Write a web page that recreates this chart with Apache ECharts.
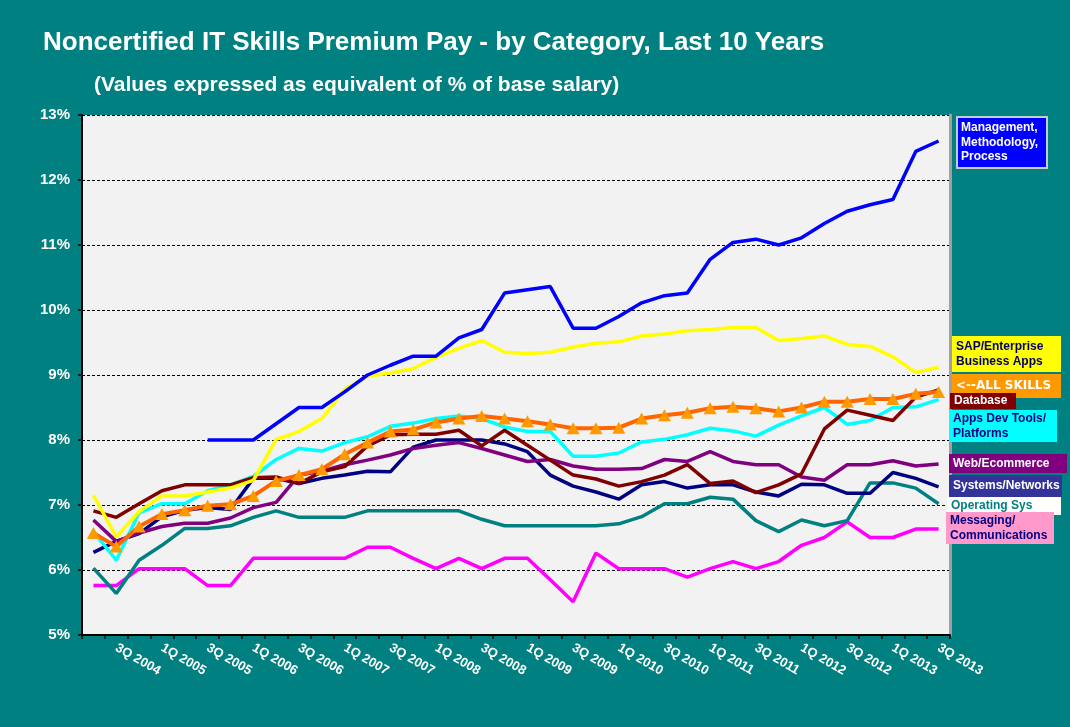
<!DOCTYPE html>
<html>
<head>
<meta charset="utf-8">
<script src="https://cdn.jsdelivr.net/npm/echarts@6/dist/echarts.min.js"></script>
<style>
  body { margin: 0; background: #fff; }
  #chart { width: 1070px; height: 727px; background: #008080; }
</style>
</head>
<body>
<div id="chart"></div>
<script>
// quarters 2Q 2004 .. 3Q 2013
var quarters = [];
for (var y = 2004; y <= 2013; y++) {
    for (var q = 1; q <= 4; q++) {
        if ((y === 2004 && q < 2) || (y === 2013 && q > 3)) continue;
        quarters.push(q + 'Q ' + y);
    }
}

var mgmt = [null, null, null, null, null, 8.0, 8.0, 8.0, 8.25, 8.5, 8.5, 8.74, 9.0, 9.15, 9.29, 9.29, 9.57, 9.7, 10.26, 10.31, 10.36, 9.72, 9.72, 9.9, 10.11, 10.22, 10.26, 10.78, 11.04, 11.09, 11.0, 11.11, 11.33, 11.52, 11.62, 11.7, 12.44, 12.6];
var sap = [7.15, 6.51, 6.9, 7.14, 7.14, 7.2, 7.26, 7.38, 8.01, 8.13, 8.33, 8.78, 8.98, 9.03, 9.1, 9.27, 9.41, 9.53, 9.35, 9.33, 9.35, 9.43, 9.49, 9.51, 9.6, 9.63, 9.68, 9.7, 9.73, 9.73, 9.53, 9.56, 9.6, 9.47, 9.44, 9.28, 9.04, 9.12];
var allSkills = [6.57, 6.36, 6.67, 6.86, 6.92, 6.99, 7.01, 7.14, 7.37, 7.46, 7.55, 7.78, 7.96, 8.13, 8.16, 8.27, 8.33, 8.37, 8.33, 8.29, 8.24, 8.18, 8.18, 8.19, 8.33, 8.38, 8.42, 8.49, 8.51, 8.49, 8.44, 8.5, 8.59, 8.59, 8.63, 8.63, 8.71, 8.74];
var database = [6.91, 6.81, 7.02, 7.22, 7.31, 7.31, 7.31, 7.42, 7.43, 7.33, 7.51, 7.59, 7.91, 8.08, 8.09, 8.09, 8.15, 7.91, 8.15, 7.92, 7.69, 7.46, 7.4, 7.29, 7.36, 7.46, 7.62, 7.33, 7.37, 7.19, 7.31, 7.48, 8.17, 8.46, 8.38, 8.3, 8.66, 8.77];
var appsDev = [6.59, 6.15, 6.88, 7.02, 7.02, 7.22, 7.31, 7.44, 7.7, 7.87, 7.83, 7.96, 8.05, 8.21, 8.26, 8.33, 8.37, 8.33, 8.2, 8.13, 8.13, 7.75, 7.75, 7.8, 7.97, 8.01, 8.08, 8.18, 8.14, 8.06, 8.23, 8.37, 8.5, 8.24, 8.3, 8.5, 8.51, 8.62];
var webEcom = [6.77, 6.44, 6.57, 6.67, 6.72, 6.72, 6.8, 6.96, 7.04, 7.46, 7.52, 7.62, 7.69, 7.77, 7.87, 7.92, 7.96, 7.87, 7.77, 7.67, 7.7, 7.6, 7.55, 7.55, 7.56, 7.7, 7.67, 7.82, 7.67, 7.62, 7.62, 7.43, 7.38, 7.62, 7.62, 7.68, 7.6, 7.63];
var systems = [6.27, 6.44, 6.56, 6.82, 6.92, 6.96, 6.93, 7.41, 7.41, 7.33, 7.41, 7.46, 7.52, 7.51, 7.89, 8.0, 8.0, 8.0, 7.94, 7.82, 7.46, 7.29, 7.2, 7.09, 7.31, 7.36, 7.26, 7.31, 7.31, 7.2, 7.14, 7.32, 7.31, 7.18, 7.18, 7.5, 7.41, 7.28];
var opSys = [6.03, 5.64, 6.15, 6.38, 6.64, 6.64, 6.68, 6.81, 6.91, 6.81, 6.81, 6.81, 6.91, 6.91, 6.91, 6.91, 6.91, 6.78, 6.68, 6.68, 6.68, 6.68, 6.68, 6.71, 6.82, 7.02, 7.02, 7.12, 7.09, 6.76, 6.59, 6.77, 6.68, 6.76, 7.34, 7.34, 7.26, 7.02];
var messaging = [5.76, 5.76, 6.02, 6.02, 6.02, 5.76, 5.76, 6.18, 6.18, 6.18, 6.18, 6.18, 6.35, 6.35, 6.18, 6.02, 6.18, 6.02, 6.18, 6.18, 5.85, 5.51, 6.26, 6.02, 6.02, 6.02, 5.89, 6.02, 6.13, 6.02, 6.13, 6.38, 6.5, 6.74, 6.5, 6.5, 6.63, 6.63];

// label boxes on the right: x, y, w, h, background, text colour, lines
var boxes = [
    [957, 117, 90, 51, '#0000ff', '#ffffff', 'Management,\nMethodology,\nProcess', '#c0d0d0'],
    [952, 336, 109, 36, '#ffff00', '#000066', 'SAP/Enterprise\nBusiness Apps', null],
    [952, 374, 109, 24, '#ff9900', '#ffffff', '<--ALL SKILLS', null],
    [950, 393, 66, 16, '#800000', '#ffffff', 'Database', null],
    [949, 410, 108, 32, '#00ffff', '#000080', 'Apps Dev Tools/\nPlatforms', null],
    [949, 454, 118, 19, '#800080', '#ffffff', 'Web/Ecommerce', null],
    [949, 475, 113, 22, '#333399', '#ffffff', 'Systems/Networks', null],
    [947, 497, 114, 18, '#ffffff', '#008080', 'Operating Sys', null],
    [946, 512, 108, 32, '#ff99cc', '#000080', 'Messaging/\nCommunications', null]
];

var graphics = [];
boxes.forEach(function (b, i) {
    var heavy = b[6] === '<--ALL SKILLS';
    graphics.push({
        type: 'rect', z: 10 + i * 2,
        shape: {x: b[0], y: b[1], width: b[2], height: b[3]},
        style: {fill: b[4], stroke: b[7] || null, lineWidth: b[7] ? 2 : 0}
    });
    graphics.push({
        type: 'text', z: 11 + i * 2,
        x: b[0] + 4, y: b[1] + b[3] / 2,
        style: {
            text: b[6], fill: b[5],
            font: heavy ? 'bold 12px "DejaVu Sans"' : 'bold 12px "Liberation Sans", Arial',
            lineHeight: 14.5, verticalAlign: 'middle', align: 'left'
        }
    });
});

var myChart = echarts.init(document.getElementById('chart'));

function line(name, data, color, width) {
    return {
        name: name, type: 'line', data: data, symbol: 'none',
        lineStyle: {color: color, width: width || 3.5},
        itemStyle: {color: color},
        connectNulls: false
    };
}

var option = {
    animation: false,
    title: [{
        text: 'Noncertified IT Skills Premium Pay - by Category, Last 10 Years',
        left: 38, top: 25,
        textStyle: {color: '#fff', fontSize: 26, fontWeight: 'bold', fontFamily: 'Liberation Sans'}
    }, {
        text: '(Values expressed as equivalent of % of base salary)',
        left: 89, top: 70,
        textStyle: {color: '#fff', fontSize: 21, fontWeight: 'bold', fontFamily: 'Liberation Sans'}
    }],
    grid: {
        left: 82, right: 120, top: 115, bottom: 92,
        show: true, backgroundColor: '#f2f2f2', borderWidth: 0
    },
    xAxis: {
        type: 'category', data: quarters, boundaryGap: true,
        axisLine: {lineStyle: {color: '#000', width: 2}},
        axisTick: {show: true, interval: 0, length: 4, lineStyle: {color: '#000', width: 1.5}},
        axisLabel: {
            interval: function (i) { return i % 2 === 1; },
            rotate: -30, color: '#fff', fontSize: 13, fontWeight: 'bold',
            fontFamily: 'Liberation Sans', margin: 12
        }
    },
    yAxis: [{
        type: 'value', min: 5, max: 13, interval: 1,
        axisLine: {show: true, lineStyle: {color: '#000', width: 2}},
        axisTick: {show: true, length: 4, lineStyle: {color: '#000', width: 1.5}},
        axisLabel: {formatter: '{value}%', color: '#fff', fontSize: 15, fontWeight: 'bold',
            fontFamily: 'Liberation Sans', margin: 12},
        splitLine: {lineStyle: {color: '#000', type: [3, 2], width: 1}}
    }, {
        type: 'value', min: 5, max: 13, interval: 1, position: 'right',
        axisLine: {show: true, lineStyle: {color: '#a0a0a0', width: 3}},
        axisTick: {show: false}, axisLabel: {show: false}, splitLine: {show: false}
    }],
    series: [
        line('Messaging/Communications', messaging, '#ff00ff'),
        line('Operating Sys', opSys, '#008080'),
        line('Systems/Networks', systems, '#000080'),
        line('Web/Ecommerce', webEcom, '#800080'),
        line('Apps Dev Tools/Platforms', appsDev, '#00ffff'),
        line('Database', database, '#800000'),
        line('SAP/Enterprise Business Apps', sap, '#ffff00'),
        line('Management, Methodology, Process', mgmt, '#0000ff'),
        {
            name: 'ALL SKILLS', type: 'line', data: allSkills,
            symbol: 'triangle', symbolSize: [13, 12],
            lineStyle: {color: '#ff6600', width: 4},
            itemStyle: {color: '#ff9900'}
        }
    ],
    graphic: graphics
};

myChart.setOption(option);
window.onresize = function () {
    myChart.resize();
};
</script>
</body>
</html>
